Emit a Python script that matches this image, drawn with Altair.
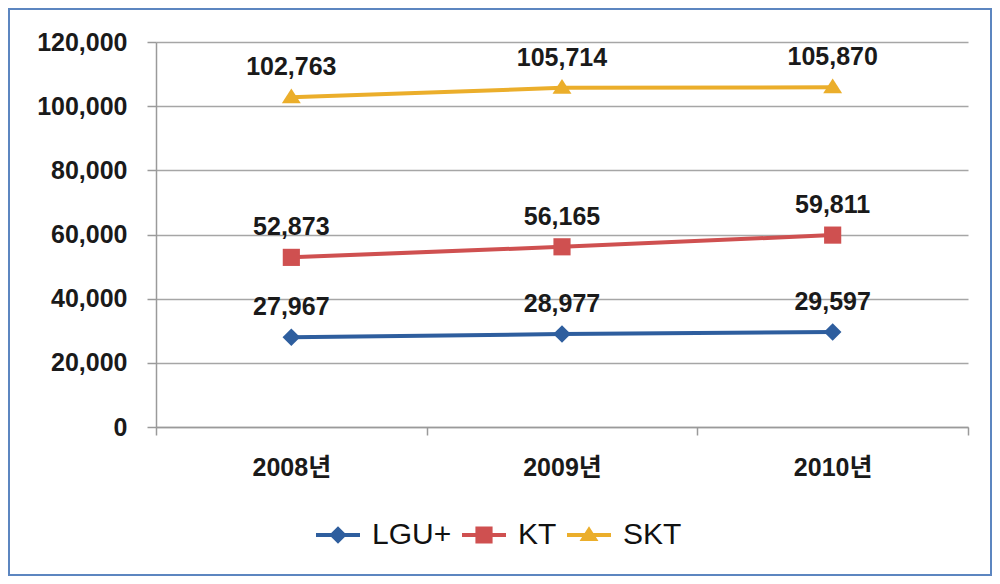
import altair as alt
import pandas as pd

years = ["2008년", "2009년", "2010년"]
series = ["LGU+", "KT", "SKT"]
lgu_values = [27967, 28977, 29597]
kt_values = [52873, 56165, 59811]
skt_values = [102763, 105714, 105870]
colors = ["#2E5E9E", "#CF5050", "#EBAE2B"]
y_ticks = [0, 20000, 40000, 60000, 80000, 100000, 120000]

# marker shapes (custom paths; unit = sqrt(size)/2 px)
marker_paths = [
    "M0,-0.40L0.40,0L0,0.40L-0.40,0Z",
    "M-0.39,-0.39L0.39,-0.39L0.39,0.39L-0.39,0.39Z",
    "M0,-0.40L0.43,0.27L-0.43,0.27Z",
]
# legend symbols: a line segment with the marker on it
line_seg = "M-1,-0.09L1,-0.09L1,0.09L-1,0.09Z"
legend_paths = [line_seg + p for p in marker_paths]

rows = []
for name, vals in zip(series, [lgu_values, kt_values, skt_values]):
    for yr, v in zip(years, vals):
        rows.append({"year": yr, "series": name, "marker": name, "value": v})
df = pd.DataFrame(rows)

FONT = "Liberation Sans, Noto Sans CJK KR"
W, H = 812, 385
PAD_L, PAD_T, PAD_R, PAD_B = 148, 34, 24, 149
SYM = 1936

x_enc = alt.X(
    "year:N",
    sort=years,
    scale=alt.Scale(type="band", paddingInner=0, paddingOuter=0),
    axis=alt.Axis(
        title=None, tickBand="extent", labelAngle=0, grid=False,
        domainColor="#9A9A9A", domainWidth=1.5, tickColor="#9A9A9A", tickWidth=1.5,
        tickSize=8, labelFont=FONT, labelFontSize=25, labelFontWeight="bold",
        labelColor="#1A1A1A", labelPadding=20,
    ),
)
y_enc = alt.Y(
    "value:Q",
    scale=alt.Scale(domain=[0, 120000], nice=False),
    axis=alt.Axis(
        title=None, values=y_ticks, format=",d", grid=True, gridColor="#A6A6A6",
        gridWidth=1.5, domainColor="#9A9A9A", domainWidth=1.5, tickColor="#9A9A9A",
        tickWidth=1.5, tickSize=9, labelFont=FONT, labelFontSize=25,
        labelFontWeight="bold", labelColor="#1A1A1A", labelPadding=20,
    ),
)

frame = alt.Chart(pd.DataFrame({"f": [0]})).mark_rect(
    fillOpacity=0, stroke="#5C86C0", strokeWidth=2
).encode(
    x=alt.value(-147), x2=alt.value(W + PAD_R - 1),
    y=alt.value(-33), y2=alt.value(H + PAD_B - 1),
)

legend_src = alt.Chart(df).mark_point(filled=True, opacity=1, size=1).encode(
    x=x_enc,
    y=y_enc,
    fill=alt.Fill(
        "series:N", sort=series,
        scale=alt.Scale(domain=series, range=colors),
        legend=None,
    ),
    shape=alt.Shape(
        "series:N", sort=series,
        scale=alt.Scale(domain=series, range=legend_paths),
        legend=alt.Legend(
            orient="none", legendX=160, legendY=471, direction="horizontal",
            title=None, symbolSize=SYM, symbolStrokeWidth=0,
            symbolStrokeColor="transparent", labelFont=FONT, labelFontSize=30,
            labelColor="#111111", labelOffset=12, columnPadding=10, padding=0,
        ),
    ),
)

lines = alt.Chart(df).mark_line(strokeWidth=4).encode(
    x=x_enc,
    y=y_enc,
    color=alt.Color(
        "series:N", sort=series,
        scale=alt.Scale(domain=series, range=colors),
        legend=None,
    ),
)

points = alt.Chart(df).mark_point(filled=True, opacity=1, size=SYM).encode(
    x=x_enc,
    y=y_enc,
    fill=alt.Fill(
        "marker:N", sort=series,
        scale=alt.Scale(domain=series, range=colors),
        legend=None,
    ),
    shape=alt.Shape(
        "marker:N", sort=series,
        scale=alt.Scale(domain=series, range=marker_paths),
        legend=None,
    ),
)

labels = alt.Chart(df).mark_text(
    dy=-30, font=FONT, fontSize=25, fontWeight="bold", color="#1A1A1A"
).encode(
    x=x_enc,
    y=y_enc,
    text=alt.Text("value:Q", format=",d"),
)

chart = alt.layer(
    frame, legend_src, lines, points, labels
).resolve_scale(
    color="independent", fill="independent", shape="independent"
).properties(
    width=W, height=H,
    autosize=alt.AutoSizeParams(type="none"),
    padding={"left": PAD_L, "top": PAD_T, "right": PAD_R, "bottom": PAD_B},
    background="white",
).configure_view(strokeWidth=0)

chart.save("out.html", embed_options={"renderer": "svg", "actions": False})
